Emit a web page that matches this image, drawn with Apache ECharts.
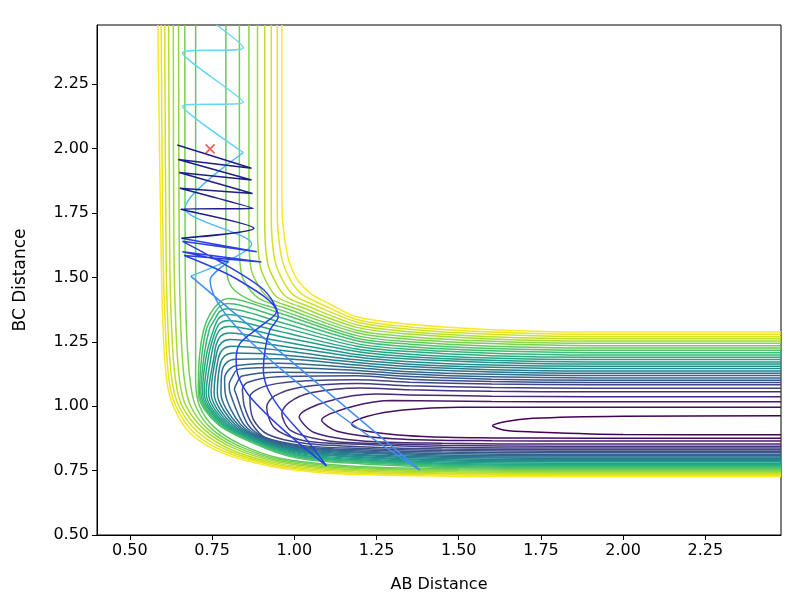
<!DOCTYPE html>
<html>
<head>
<meta charset="utf-8">
<script src="https://cdn.jsdelivr.net/npm/echarts@6/dist/echarts.min.js"></script>
<style>
  html, body { margin: 0; padding: 0; background: #fff; }
  #chart { width: 790px; height: 600px; }
</style>
</head>
<body>
<div id="chart"></div>
<script>
// axis ticks
const xTicks = [0.5, 0.75, 1.0, 1.25, 1.5, 1.75, 2.0, 2.25];
const yTicks = [0.5, 0.75, 1.0, 1.25, 1.5, 1.75, 2.0, 2.25];

// contour lines, lowest level first
// closed well contours in the product valley
const wellContours = [
  [[2.48,0.963],[2.0,0.961],[1.726,0.953],[1.64,0.94],[1.603,0.924],[1.64,0.907],[1.726,0.900],[2.0,0.890],[2.48,0.889]],
  [[2.48,0.996],[1.5,0.996],[1.33,0.985],[1.22,0.960],[1.174,0.931],[1.22,0.903],[1.393,0.882],[1.6,0.877],[1.9,0.876],[2.48,0.876]],
  [[2.48,1.017],[1.9,1.017],[1.6,1.018],[1.3,1.022],[1.18,1.000],[1.083,0.946],[1.13,0.903],[1.3,0.874],[1.6,0.866],[1.9,0.865],[2.48,0.865]],
  [[2.48,1.037],[1.9,1.037],[1.6,1.039],[1.35,1.044],[1.25,1.047],[1.10,1.018],[1.015,0.960],[1.06,0.898],[1.2,0.866],[1.45,0.856],[1.8,0.853],[2.48,0.853]],
  [[2.48,1.056],[1.9,1.056],[1.6,1.058],[1.35,1.064],[1.2,1.071],[1.05,1.052],[0.985,1.015],[0.962,0.973],[0.99,0.905],[1.1,0.866],[1.25,0.855],[1.45,0.848],[1.8,0.845],[2.48,0.845]],
  [[2.48,1.070],[1.9,1.070],[1.6,1.073],[1.35,1.079],[1.19,1.088],[1.02,1.074],[0.94,1.040],[0.916,0.998],[0.94,0.915],[1.03,0.866],[1.2,0.852],[1.45,0.841],[1.8,0.838],[2.48,0.838]],
  [[2.48,1.083],[1.9,1.083],[1.6,1.086],[1.35,1.093],[1.19,1.103],[1.0,1.096],[0.905,1.075],[0.865,1.037],[0.875,0.950],[0.92,0.890],[1.03,0.856],[1.2,0.843],[1.45,0.834],[1.8,0.831],[2.48,0.831]]
];

// contours that bend round the corner
const hookContours = [
  [[2.48,1.092],[1.9,1.092],[1.6,1.096],[1.35,1.105],[1.19,1.118],[0.95,1.114],[0.857,1.092],[0.842,1.065],[0.843,1.050],[0.848,1.000],[0.872,0.930],[0.91,0.880],[1.03,0.847],[1.2,0.836],[1.45,0.828],[1.8,0.825],[2.48,0.825]],
  [[2.48,1.101],[1.9,1.101],[1.6,1.105],[1.35,1.115],[1.19,1.128],[0.95,1.132],[0.841,1.117],[0.826,1.092],[0.818,1.065],[0.822,1.050],[0.858,0.930],[0.91,0.877],[1.03,0.843],[1.2,0.831],[1.45,0.822],[1.8,0.819],[2.48,0.819]],
  [[2.48,1.110],[1.9,1.110],[1.6,1.114],[1.35,1.125],[1.19,1.139],[0.95,1.150],[0.828,1.143],[0.813,1.118],[0.802,1.085],[0.805,1.050],[0.846,0.930],[0.91,0.874],[1.03,0.839],[1.2,0.826],[1.45,0.816],[1.8,0.813],[2.48,0.813]],
  [[2.48,1.119],[1.9,1.119],[1.6,1.124],[1.35,1.134],[1.19,1.149],[0.95,1.167],[0.826,1.158],[0.803,1.144],[0.788,1.109],[0.790,1.050],[0.836,0.930],[0.91,0.871],[1.03,0.836],[1.2,0.822],[1.45,0.811],[1.8,0.808],[2.48,0.808]],
  [[2.48,1.128],[1.9,1.128],[1.6,1.133],[1.35,1.144],[1.19,1.160],[0.95,1.184],[0.820,1.182],[0.795,1.170],[0.780,1.135],[0.777,1.050],[0.827,0.930],[0.91,0.868],[1.03,0.832],[1.2,0.818],[1.45,0.806],[1.8,0.803],[2.48,0.803]],
  [[2.48,1.137],[1.9,1.137],[1.6,1.142],[1.35,1.154],[1.19,1.170],[0.95,1.201],[0.814,1.207],[0.789,1.196],[0.774,1.161],[0.766,1.050],[0.819,0.930],[0.91,0.865],[1.03,0.828],[1.2,0.813],[1.45,0.802],[1.8,0.798],[2.48,0.798]],
  [[2.48,1.146],[1.9,1.146],[1.6,1.151],[1.35,1.163],[1.19,1.180],[0.95,1.218],[0.809,1.233],[0.784,1.222],[0.769,1.187],[0.756,1.050],[0.811,0.930],[0.91,0.862],[1.03,0.824],[1.2,0.809],[1.45,0.797],[1.8,0.793],[2.48,0.793]],
  [[2.48,1.155],[1.9,1.155],[1.6,1.160],[1.35,1.173],[1.19,1.191],[0.95,1.236],[0.805,1.259],[0.780,1.248],[0.765,1.213],[0.747,1.050],[0.804,0.930],[0.91,0.859],[1.03,0.820],[1.2,0.804],[1.45,0.792],[1.8,0.788],[2.48,0.788]],
  [[2.48,1.164],[1.9,1.164],[1.6,1.170],[1.35,1.183],[1.19,1.201],[0.95,1.254],[0.802,1.284],[0.777,1.273],[0.762,1.238],[0.757,1.200],[0.739,1.050],[0.797,0.930],[0.91,0.856],[1.03,0.817],[1.2,0.801],[1.45,0.788],[1.8,0.784],[2.48,0.784]],
  [[2.48,1.172],[1.9,1.172],[1.6,1.178],[1.35,1.192],[1.19,1.212],[0.95,1.273],[0.800,1.309],[0.775,1.298],[0.760,1.263],[0.748,1.200],[0.732,1.050],[0.791,0.930],[0.91,0.853],[1.03,0.813],[1.2,0.796],[1.45,0.783],[1.8,0.779],[2.48,0.779]],
  [[2.48,1.181],[1.9,1.181],[1.6,1.187],[1.35,1.202],[1.19,1.222],[0.95,1.292],[0.799,1.333],[0.774,1.322],[0.759,1.287],[0.740,1.200],[0.726,1.050],[0.785,0.930],[0.91,0.850],[1.03,0.809],[1.2,0.792],[1.45,0.779],[1.8,0.775],[2.48,0.775]],
  [[2.48,1.190],[1.9,1.190],[1.6,1.196],[1.35,1.212],[1.19,1.233],[0.95,1.311],[0.798,1.356],[0.773,1.345],[0.758,1.310],[0.733,1.200],[0.721,1.050],[0.780,0.930],[0.91,0.847],[1.03,0.805],[1.2,0.788],[1.45,0.775],[1.8,0.771],[2.48,0.771]],
  [[2.48,1.199],[1.9,1.199],[1.6,1.206],[1.35,1.221],[1.19,1.243],[0.95,1.329],[0.798,1.378],[0.773,1.367],[0.756,1.332],[0.742,1.300],[0.726,1.200],[0.716,1.050],[0.775,0.930],[0.91,0.844],[1.03,0.802],[1.2,0.785],[1.45,0.771],[1.8,0.767],[2.48,0.767]],
  [[2.48,1.208],[1.9,1.208],[1.6,1.215],[1.35,1.231],[1.19,1.254],[0.95,1.347],[0.798,1.399],[0.773,1.387],[0.752,1.350],[0.733,1.300],[0.719,1.200],[0.712,1.050],[0.771,0.930],[0.91,0.841],[1.03,0.798],[1.2,0.781],[1.45,0.767],[1.8,0.763],[2.48,0.763]],
  [[2.48,1.217],[1.9,1.217],[1.6,1.224],[1.35,1.241],[1.19,1.264],[0.95,1.364],[0.799,1.418],[0.774,1.405],[0.745,1.360],[0.725,1.300],[0.712,1.200],[0.708,1.050],[0.767,0.930],[0.91,0.838],[1.03,0.794],[1.2,0.777],[1.45,0.763],[1.8,0.759],[2.48,0.759]]
];

// upper levels open into the entrance channel: right-hand (inner) branch
const innerWalls = [
  [[0.792,2.48],[0.792,1.60],[0.797,1.50],[0.818,1.45],[0.870,1.410],[0.950,1.377],[1.19,1.274],[1.35,1.250],[1.6,1.233],[1.9,1.226],[2.48,1.226]],
  [[0.833,2.48],[0.833,1.63],[0.839,1.515],[0.862,1.457],[0.896,1.416],[0.971,1.381],[1.19,1.285],[1.35,1.260],[1.6,1.243],[1.9,1.235],[2.48,1.235]],
  [[0.862,2.48],[0.862,1.66],[0.869,1.530],[0.893,1.464],[0.922,1.420],[0.993,1.384],[1.19,1.295],[1.35,1.270],[1.6,1.252],[1.9,1.244],[2.48,1.244]],
  [[0.888,2.48],[0.888,1.69],[0.896,1.545],[0.920,1.471],[0.948,1.423],[1.014,1.388],[1.19,1.306],[1.35,1.280],[1.6,1.261],[1.9,1.253],[2.48,1.253]],
  [[0.910,2.48],[0.910,1.71],[0.919,1.555],[0.944,1.479],[0.973,1.427],[1.036,1.391],[1.19,1.316],[1.35,1.289],[1.6,1.270],[1.9,1.262],[2.48,1.262]],
  [[0.930,2.48],[0.930,1.74],[0.940,1.570],[0.966,1.486],[0.999,1.430],[1.057,1.395],[1.19,1.327],[1.35,1.299],[1.6,1.279],[1.9,1.270],[2.48,1.270]],
  [[0.948,2.48],[0.948,1.77],[0.960,1.585],[0.987,1.493],[1.024,1.434],[1.079,1.398],[1.19,1.337],[1.35,1.308],[1.6,1.288],[1.9,1.279],[2.48,1.279]],
  [[0.962,2.48],[0.962,1.80],[0.977,1.600],[1.005,1.500],[1.050,1.437],[1.100,1.402],[1.19,1.347],[1.35,1.318],[1.6,1.297],[1.9,1.288],[2.48,1.288]]
];

// same levels: left-hand (outer) branch round the repulsive wall
const outerWalls = [
  [[0.700,2.48],[0.700,1.60],[0.700,1.30],[0.700,1.10],[0.712,1.00],[0.757,0.918],[0.835,0.853],[0.950,0.800],[1.09,0.776],[1.25,0.763],[1.5,0.757],[1.8,0.755],[2.48,0.755]],
  [[0.667,2.48],[0.668,1.60],[0.672,1.30],[0.683,1.10],[0.700,1.00],[0.747,0.914],[0.828,0.848],[0.948,0.795],[1.09,0.771],[1.25,0.759],[1.5,0.753],[1.8,0.751],[2.48,0.751]],
  [[0.648,2.48],[0.650,1.60],[0.655,1.30],[0.666,1.10],[0.685,1.00],[0.737,0.911],[0.821,0.843],[0.946,0.790],[1.09,0.766],[1.25,0.755],[1.5,0.749],[1.8,0.747],[2.48,0.747]],
  [[0.632,2.48],[0.634,1.60],[0.640,1.30],[0.651,1.10],[0.671,1.00],[0.727,0.908],[0.814,0.838],[0.944,0.785],[1.09,0.761],[1.25,0.750],[1.5,0.745],[1.8,0.743],[2.48,0.743]],
  [[0.618,2.48],[0.621,1.60],[0.627,1.30],[0.639,1.10],[0.659,1.00],[0.716,0.905],[0.806,0.832],[0.941,0.780],[1.09,0.756],[1.25,0.746],[1.5,0.741],[1.8,0.739],[2.48,0.739]],
  [[0.606,2.48],[0.610,1.60],[0.616,1.30],[0.628,1.10],[0.649,1.00],[0.705,0.902],[0.799,0.827],[0.939,0.775],[1.09,0.751],[1.25,0.741],[1.5,0.737],[1.8,0.735],[2.48,0.735]],
  [[0.595,2.48],[0.601,1.60],[0.608,1.30],[0.619,1.10],[0.640,1.00],[0.694,0.898],[0.791,0.822],[0.937,0.770],[1.09,0.746],[1.25,0.737],[1.5,0.733],[1.8,0.731],[2.48,0.731]],
  [[0.585,2.48],[0.595,1.60],[0.601,1.30],[0.612,1.10],[0.632,1.00],[0.683,0.895],[0.784,0.817],[0.935,0.765],[1.09,0.741],[1.25,0.733],[1.5,0.728],[1.8,0.727],[2.48,0.727]]
];

// trajectory, split where its colour changes
const trajCyan = [[0.764,2.48],[0.845,2.392],[0.66,2.372],[0.845,2.18],[0.66,2.165],[0.845,1.985]];
const trajSky = [[0.845,1.985],[0.668,1.770],[0.870,1.630],[0.685,1.505]];
const trajMid = [[0.685,1.505],[1.382,0.752],[0.744,1.490],[0.800,1.560]];
const trajBlue = [[0.800,1.560],[0.660,1.600],[0.900,1.560],[0.665,1.585],[0.830,1.490],[0.946,1.367],[0.896,1.309],[0.835,1.244],[0.823,1.179],[0.830,1.115],[0.865,1.037],[0.967,0.908],[1.098,0.768],[1.038,0.869],[0.967,0.973],[0.921,1.063],[0.906,1.141],[0.911,1.218],[0.926,1.296],[0.951,1.347],[0.900,1.460],[0.660,1.640],[0.886,1.600],[0.657,1.652]];
const trajNavy = [[0.657,1.652],[0.877,1.691],[0.654,1.765],[0.875,1.768],[0.652,1.846],[0.873,1.826],[0.650,1.907],[0.870,1.878],[0.647,1.958],[0.870,1.924],[0.644,2.014]];
const startPoint = [[0.744, 1.999]];

const viridisStops = ['#440154','#482475','#414487','#355f8d','#2a788e','#21918c','#22a884','#44bf70','#7ad151','#bddf26','#fde725'];
function viridis(t) {
  const p = t * 10, i = Math.min(9, Math.floor(p)), f = p - i;
  const a = echarts.color.parse(viridisStops[i]), b = echarts.color.parse(viridisStops[i + 1]);
  return 'rgb(' + [0, 1, 2].map(j => Math.round(a[j] + (b[j] - a[j]) * f)).join(',') + ')';
}

const nLevels = 30;
const series = [];
function linePiece(points, color, z) {
  series.push({
    type: 'line', data: points, showSymbol: false, smooth: 0.3, silent: true,
    lineStyle: { color: color, width: 1.5 }, z: z
  });
}
function contourLine(points, level) {
  linePiece(points, viridis(level / (nLevels - 1)), 2);
}
wellContours.forEach((p, i) => contourLine(p, i));
hookContours.forEach((p, i) => contourLine(p, i + 7));
innerWalls.forEach((p, i) => contourLine(p, i + 22));
outerWalls.forEach((p, i) => contourLine(p, i + 22));

linePiece(trajCyan, '#66d6f2', 3);
linePiece(trajSky, '#52b8f2', 3);
linePiece(trajMid, '#3f8ef0', 3);
linePiece(trajBlue, '#2a3fe6', 3);
linePiece(trajNavy, '#1c1f86', 3);

series.push({
  type: 'scatter', data: startPoint, symbol: 'path://M0,0 L10,10 M10,0 L0,10', symbolSize: 9,
  itemStyle: { color: 'none', borderColor: '#e8322b', borderWidth: 1.6 }, z: 4
});

const axisText = { color: '#000', fontSize: 16, fontFamily: 'DejaVu Sans' };
const chart = echarts.init(document.getElementById('chart'), null, { renderer: 'canvas' });
chart.setOption({
  animation: false,
  grid: { left: 97, right: 9, top: 25, bottom: 65, show: true, borderColor: '#000', borderWidth: 1, backgroundColor: 'transparent' },
  xAxis: {
    type: 'value', min: 0.4, max: 2.48,
    name: 'AB Distance', nameLocation: 'middle', nameGap: 42, nameTextStyle: axisText,
    axisLine: { show: true, onZero: false, lineStyle: { color: '#000', width: 1 } },
    axisTick: { show: true, length: 5, lineStyle: { color: '#000' }, customValues: xTicks },
    axisLabel: { ...axisText, margin: 8, customValues: xTicks, formatter: v => v.toFixed(2) },
    splitLine: { show: false }
  },
  yAxis: {
    type: 'value', min: 0.5, max: 2.48,
    name: 'BC Distance', nameLocation: 'middle', nameGap: 68, nameRotate: 90,
    nameTextStyle: { ...axisText, fontSize: 17 },
    axisLine: { show: true, onZero: false, lineStyle: { color: '#000', width: 1 } },
    axisTick: { show: true, length: 5, lineStyle: { color: '#000' }, customValues: yTicks },
    axisLabel: { ...axisText, margin: 8, customValues: yTicks, formatter: v => v.toFixed(2) },
    splitLine: { show: false }
  },
  series: series
});
</script>
</body>
</html>
